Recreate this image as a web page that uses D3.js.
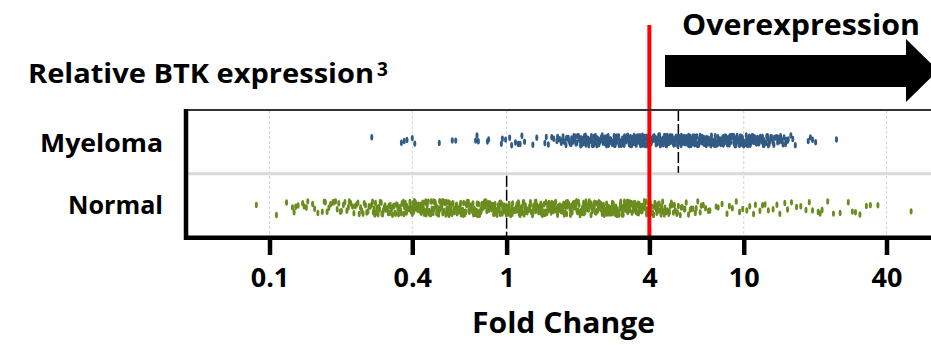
<!DOCTYPE html>
<html>
<head>
<meta charset="utf-8">
<script src="https://cdn.jsdelivr.net/npm/d3@7"></script>
<style>
  body { margin: 0; background: #fff; }
  text { font-family: "Open Sans", sans-serif; font-weight: 700; fill: #000; }
</style>
</head>
<body>
<svg id="chart" width="931" height="345"></svg>
<script>
// rows and values
const categories = ["Myeloma", "Normal"];
const seriesColors = ["#325b85", "#6b8c1f"];

const myelomaValues = [
  0.27, 0.36, 0.37, 0.38, 0.4, 0.41, 0.52, 0.59, 0.61, 0.74, 0.75, 0.76, 0.83, 0.84, 0.95, 0.96, 0.99,
  1.03, 1.05, 1.09, 1.12, 1.14, 1.16, 1.19, 1.29, 1.34, 1.45, 1.47, 1.5, 1.55, 1.58, 1.63, 1.66, 1.68,
  1.71, 1.73, 1.76, 1.78, 1.8, 1.82, 1.85, 1.87, 1.9, 1.92, 1.94, 1.96, 1.98, 2.01, 2.03,
  2.05, 2.07, 2.07, 2.1, 2.12, 2.13, 2.16, 2.17, 2.2, 2.21, 2.23, 2.26, 2.27, 2.3, 2.31, 2.34, 2.36, 2.37,
  2.4, 2.43, 2.44, 2.46, 2.49, 2.5, 2.53, 2.55, 2.56, 2.6, 2.61, 2.64, 2.67, 2.68, 2.71, 2.73, 2.77, 2.78,
  2.81, 2.82, 2.86, 2.89, 2.9, 2.94, 2.96, 2.98, 3.02, 3.04, 3.06, 3.1, 3.12, 3.15, 3.19, 3.2, 3.24, 3.28,
  3.29, 3.33, 3.37, 3.38, 3.43, 3.45, 3.48, 3.52, 3.55, 3.57, 3.62, 3.64, 3.67, 3.72, 3.74, 3.77, 3.82,
  3.84, 3.87, 3.92, 3.94, 3.98, 4.02, 4.05, 4.08, 4.13, 4.16, 4.19, 4.24, 4.27, 4.3, 4.36, 4.38, 4.42,
  4.48, 4.5, 4.55, 4.6, 4.63, 4.67, 4.73, 4.76, 4.8, 4.86, 4.89, 4.94, 4.99, 5.03, 5.07, 5.13, 5.17, 5.21,
  5.27, 5.31, 5.35, 5.42, 5.46, 5.5, 5.57, 5.61, 5.66, 5.73, 5.77, 5.82, 5.89, 5.93, 5.99, 6.06, 6.1, 6.16,
  6.23, 6.28, 6.34, 6.41, 6.46, 6.52, 6.6, 6.64, 6.71, 6.79, 6.83, 6.9, 6.98, 7.03, 7.1, 7.18, 7.23, 7.31,
  7.39, 7.44, 7.52, 7.61, 7.66, 7.74, 7.83, 7.88, 7.97, 8.06, 8.11, 8.2, 8.3, 8.35, 8.44, 8.54, 8.6, 8.69,
  8.8, 8.86, 8.95, 9.06, 9.12, 9.22, 9.33, 9.4, 9.5, 9.62, 9.68, 9.79, 9.91, 9.98, 10.1, 10.2, 10.3, 10.4,
  10.5, 10.6, 10.7, 10.8, 10.9, 11.0, 11.1, 11.3, 11.4, 11.5, 11.7, 11.8, 11.9, 12.1, 12.2, 12.4, 12.6,
  12.7, 12.9, 13.1, 13.3, 13.5, 13.8, 14.0, 14.3, 14.5, 14.8, 15.1, 15.4, 15.8,
  16.1, 16.5, 18.7, 19.1, 19.5, 20.1, 24.6,
  1.64, 1.7, 1.74, 1.79, 1.83, 1.88, 1.91, 1.95, 1.99, 2.02,
  2.06, 2.09, 2.11, 2.14, 2.15, 2.18, 2.19, 2.22, 2.25, 2.28, 2.29, 2.32, 2.33, 2.35, 2.39, 2.41, 2.42,
  2.45, 2.47, 2.51, 2.52, 2.54, 2.58, 2.59, 2.62, 2.63, 2.65, 2.69, 2.7, 2.74, 2.75, 2.79, 2.8, 2.84, 2.85,
  2.87, 2.91, 2.92, 2.95, 2.97, 3.0, 3.01, 3.05, 3.08, 3.09, 3.13, 3.14, 3.17, 3.21, 3.22, 3.26, 3.27, 3.31,
  3.32, 3.35, 3.36, 3.4, 3.41, 3.46, 3.47, 3.5, 3.53, 3.56, 3.59, 3.6, 3.65, 3.66, 3.7, 3.73, 3.76, 3.79,
  3.8, 3.85, 3.86, 3.9, 3.91, 3.96, 3.97, 4.0, 4.04, 4.07, 4.1, 4.11, 4.15, 4.18, 4.22, 4.25, 4.28, 4.33,
  4.34, 4.4, 4.41, 4.45, 4.47, 4.52, 4.53, 4.58, 4.62, 4.65, 4.7, 4.71, 4.75, 4.78, 4.83, 4.84, 4.9, 4.92,
  4.97, 5.0, 5.05, 5.1, 5.11, 5.15, 5.19, 5.24, 5.25, 5.3, 5.33, 5.38, 5.4, 5.44, 5.48, 5.53, 5.55, 5.59,
  5.64, 5.69, 5.7, 5.75, 5.8, 5.85, 5.87, 5.91, 5.96, 6.02, 6.04, 6.08, 6.13, 6.19, 6.21, 6.26, 6.31, 6.37,
  6.39, 6.44, 6.49, 6.55, 6.57, 6.62, 6.68, 6.74, 6.76, 6.81, 6.87, 6.93, 6.95, 7.01, 7.07, 7.13, 7.15,
  7.21, 7.27, 7.34, 7.36, 7.42, 7.48, 7.56, 7.58, 7.64, 7.7, 7.78, 7.8, 7.86, 7.93, 8.01, 8.03, 8.09, 8.16,
  8.25, 8.27, 8.33, 8.4, 8.49, 8.51, 8.57, 8.65, 8.74, 8.77, 8.83, 8.91, 9.0, 9.03, 9.09, 9.18, 9.27, 9.3,
  9.37, 9.46, 9.56, 9.59, 9.65, 9.74, 9.85, 9.88, 9.95, 10.05, 10.15, 10.25, 10.35, 10.45, 10.55, 10.65,
  10.75, 10.85, 10.95, 11.05, 11.2, 11.35, 11.45, 11.6, 11.75, 11.85, 12.0, 12.15, 12.3, 12.5, 12.65, 12.8,
  13.0, 13.2, 13.4, 13.65, 13.9, 14.15, 14.4, 14.65, 15.0, 15.3
];

const normalValues = [
  0.088, 0.107, 0.118, 0.125, 0.127, 0.129, 0.132, 0.138, 0.14, 0.143, 0.145, 0.152, 0.155, 0.16, 0.167,
  0.17, 0.172, 0.175, 0.178, 0.181, 0.185, 0.187, 0.19, 0.193, 0.196, 0.199, 0.201, 0.205, 0.208, 0.212,
  0.215, 0.217, 0.22, 0.224, 0.227, 0.23, 0.233, 0.236, 0.239, 0.242, 0.245, 0.248, 0.251, 0.254, 0.257,
  0.26, 0.263, 0.266,
  0.27, 0.272, 0.276, 0.278, 0.28, 0.284, 0.287, 0.289, 0.293, 0.296, 0.298, 0.302, 0.305, 0.307, 0.311,
  0.314, 0.317, 0.321, 0.323, 0.326, 0.33, 0.333, 0.336, 0.34, 0.343, 0.346, 0.35, 0.353, 0.357, 0.36,
  0.364, 0.367, 0.371, 0.374, 0.378, 0.382, 0.385, 0.389, 0.393, 0.396, 0.4, 0.404, 0.408, 0.412, 0.416,
  0.42, 0.424, 0.428, 0.432, 0.436, 0.441, 0.445, 0.449, 0.454, 0.458, 0.462, 0.467, 0.471, 0.476, 0.481,
  0.485, 0.49, 0.495, 0.5, 0.505, 0.51, 0.515, 0.52, 0.525, 0.53, 0.535, 0.541, 0.546, 0.552, 0.557,
  0.562, 0.568, 0.574, 0.579, 0.585, 0.591, 0.597, 0.603, 0.609, 0.615, 0.621, 0.627, 0.633, 0.64, 0.646,
  0.653, 0.659, 0.666, 0.672, 0.679, 0.686, 0.693, 0.7, 0.707, 0.714, 0.721, 0.728, 0.736, 0.743, 0.751,
  0.758, 0.766, 0.773, 0.781, 0.789, 0.797, 0.805, 0.813, 0.821, 0.829, 0.838, 0.846, 0.855, 0.863,
  0.872, 0.881, 0.889, 0.898, 0.907, 0.917, 0.926, 0.935, 0.944, 0.954, 0.963, 0.973, 0.983, 0.993, 1.0,
  1.01, 1.02, 1.03, 1.04, 1.05, 1.06, 1.07, 1.09, 1.1, 1.11, 1.12, 1.13, 1.14, 1.15, 1.16, 1.18, 1.19,
  1.2, 1.21, 1.22, 1.24, 1.25, 1.26, 1.28, 1.29, 1.3, 1.32, 1.33, 1.34, 1.36, 1.37, 1.39, 1.4, 1.41, 1.43,
  1.44, 1.46, 1.47, 1.49, 1.5, 1.52, 1.54, 1.55, 1.57, 1.58, 1.6, 1.62, 1.63, 1.65, 1.67, 1.69, 1.7, 1.72,
  1.74, 1.76, 1.77, 1.79, 1.81, 1.83, 1.85, 1.87, 1.89, 1.91, 1.93, 1.95, 1.97, 1.99, 2.01, 2.03, 2.05,
  2.08, 2.1, 2.12, 2.14, 2.16, 2.19, 2.21, 2.23, 2.26, 2.28, 2.3, 2.33, 2.35, 2.38, 2.4, 2.43, 2.45, 2.48,
  2.5, 2.53, 2.56, 2.58, 2.61, 2.64, 2.66, 2.69, 2.72, 2.75, 2.78, 2.8, 2.83, 2.86, 2.89, 2.92, 2.95,
  2.98, 3.02, 3.05, 3.08, 3.11, 3.14, 3.18, 3.21, 3.24, 3.28, 3.31, 3.35, 3.38, 3.42, 3.45, 3.49, 3.52,
  3.56, 3.6, 3.63, 3.67, 3.71, 3.75, 3.79, 3.83, 3.87, 3.91, 3.95, 3.99, 4.03, 4.07, 4.11, 4.15, 4.2,
  4.24, 4.28, 4.33,
  4.38, 4.45, 4.5, 4.57, 4.62, 4.7, 4.77, 4.83, 4.9, 4.98, 5.05, 5.15, 5.22, 5.3, 5.4, 5.5, 5.62, 5.72,
  5.85, 5.95, 6.1, 6.25, 6.4, 6.55,
  6.62, 6.75, 6.9, 7.1, 7.2, 7.65, 7.8, 8.1, 8.5, 8.7, 8.95, 9.3, 9.6, 9.9, 10.3, 10.6, 11.0, 11.2, 11.7, 12.0,
  12.3, 12.7, 13.3, 13.8, 14.2, 14.9, 15.3, 15.9, 16.7, 17.4, 18.3, 18.9, 19.5, 20.6, 21.0, 21.4, 22.6,
  23.9, 25.5, 27.6, 28.7, 29.6, 30.9, 32.9, 34.2, 36.8, 50.8,
  0.274, 0.282, 0.291, 0.3, 0.309, 0.319, 0.328, 0.338, 0.348, 0.355, 0.362, 0.369, 0.376, 0.38, 0.387,
  0.391, 0.398, 0.402, 0.406, 0.41, 0.414, 0.418, 0.422, 0.426, 0.43, 0.434, 0.439, 0.443, 0.447, 0.451,
  0.456, 0.46, 0.465, 0.469, 0.474, 0.478, 0.483, 0.488, 0.492, 0.497, 0.502, 0.507, 0.512, 0.517, 0.522,
  0.528, 0.533, 0.538, 0.543, 0.549, 0.554, 0.56, 0.565, 0.571, 0.576, 0.582, 0.588, 0.594, 0.6, 0.606,
  0.612, 0.618, 0.624, 0.63, 0.637, 0.643, 0.65, 0.656, 0.663, 0.669, 0.676, 0.683, 0.69, 0.697, 0.704,
  0.711, 0.718, 0.725, 0.732, 0.74, 0.747, 0.755, 0.762, 0.77, 0.778, 0.785, 0.793, 0.801, 0.809, 0.817,
  0.825, 0.834, 0.842, 0.851, 0.859, 0.868, 0.877, 0.885, 0.894, 0.903, 0.912, 0.922, 0.931, 0.94, 0.95,
  0.959, 0.969, 0.979, 0.989, 0.998, 1.015, 1.025, 1.035, 1.045, 1.055, 1.065, 1.075, 1.085, 1.095, 1.105,
  1.115, 1.125, 1.14, 1.15, 1.165, 1.175, 1.185, 1.2, 1.21, 1.225, 1.235, 1.245, 1.26, 1.27, 1.285, 1.3,
  1.31, 1.325, 1.34, 1.35, 1.365, 1.38, 1.395, 1.41, 1.42, 1.435, 1.45, 1.465, 1.48, 1.495, 1.51, 1.53,
  1.545, 1.56, 1.575, 1.59, 1.61, 1.625, 1.64, 1.66, 1.675, 1.695, 1.71, 1.73, 1.75, 1.765, 1.785, 1.8,
  1.82, 1.84, 1.86, 1.88, 1.9, 1.92, 1.94, 1.96, 1.98, 2.0, 2.02, 2.04, 2.07, 2.09, 2.11, 2.13, 2.15, 2.18,
  2.2, 2.22, 2.25, 2.27, 2.29, 2.32, 2.34, 2.37, 2.39, 2.42, 2.44, 2.47, 2.49, 2.52, 2.55, 2.57, 2.6, 2.63,
  2.65, 2.68, 2.71, 2.74, 2.77, 2.79, 2.82, 2.85, 2.88, 2.91, 2.94, 2.97, 3.0, 3.03, 3.07, 3.1, 3.13, 3.16,
  3.2, 3.23, 3.26, 3.3, 3.33, 3.36, 3.4, 3.44, 3.47, 3.51, 3.54, 3.58, 3.62, 3.65, 3.69, 3.73, 3.77, 3.81,
  3.85, 3.89, 3.93, 3.97, 4.01, 4.05, 4.09, 4.13, 4.17, 4.22, 4.26, 4.3, 4.35, 4.4, 4.48, 4.55, 4.65, 4.74,
  4.86, 4.95, 5.1, 5.25, 5.45, 5.65, 6.0, 6.3
];

const medianValues = [5.3, 1.0];
const tickValues = [0.1, 0.4, 1, 4, 10, 40];
const thresholdValue = 4;

const svg = d3.select("#chart");

// plot box
const plotLeft = 186, plotTop = 110, plotBottom = 237.5, plotRight = 945;

const x = d3.scaleLog().domain([0.1, 40]).range([269.5, 886.5]);
const y = d3.scaleBand().domain(categories).range([plotTop, plotBottom]);

// vertical grid at ticks
svg.append("g").selectAll("line")
  .data(tickValues)
  .join("line")
  .attr("x1", d => x(d)).attr("x2", d => x(d))
  .attr("y1", plotTop + 1).attr("y2", plotBottom - 2)
  .attr("stroke", "#d6d6d6")
  .attr("stroke-width", 1)
  .attr("stroke-dasharray", "3,2");

// row separator
svg.append("line")
  .attr("x1", plotLeft).attr("x2", plotRight)
  .attr("y1", y("Normal")).attr("y2", y("Normal"))
  .attr("stroke", "#d9d9d9")
  .attr("stroke-width", 3);

// median lines
svg.append("g").selectAll("line")
  .data(categories)
  .join("line")
  .attr("x1", (d, i) => x(medianValues[i])).attr("x2", (d, i) => x(medianValues[i]))
  .attr("y1", d => y(d) + (d === "Myeloma" ? 0 : 2))
  .attr("y2", d => y(d) + y.bandwidth() - (d === "Myeloma" ? 1 : 0))
  .attr("stroke", "#000")
  .attr("stroke-width", 1.5)
  .attr("stroke-dasharray", "11,3");

// jittered points (deterministic vertical scatter, layout only)
const spread = [10, 14];
const jitter = i => {
  const s = Math.sin(i * 12.9898 + 78.233) * 43758.5453;
  return s - Math.floor(s) - 0.5;
};
const allSeries = [myelomaValues, normalValues];

categories.forEach((cat, k) => {
  const cy = y(cat) + y.bandwidth() / 2 + (k === 0 ? -1.5 : 2.5);
  svg.append("g").selectAll("ellipse")
    .data(allSeries[k])
    .join("ellipse")
    .attr("cx", d => x(d))
    .attr("cy", (d, i) => cy + jitter(i + k * 1000) * spread[k])
    .attr("rx", 1.5)
    .attr("ry", 3.2)
    .attr("fill", seriesColors[k]);
});

// threshold line
svg.append("line")
  .attr("x1", x(thresholdValue)).attr("x2", x(thresholdValue))
  .attr("y1", 25).attr("y2", plotBottom)
  .attr("stroke", "#ff0000")
  .attr("stroke-width", 4);

// frame
svg.append("line")
  .attr("x1", plotLeft).attr("x2", plotRight)
  .attr("y1", plotTop).attr("y2", plotTop)
  .attr("stroke", "#333").attr("stroke-width", 2);
svg.append("line")
  .attr("x1", plotLeft).attr("x2", plotLeft)
  .attr("y1", plotTop - 1).attr("y2", plotBottom + 2.5)
  .attr("stroke", "#000").attr("stroke-width", 4.5);
svg.append("line")
  .attr("x1", plotLeft - 2).attr("x2", plotRight)
  .attr("y1", plotBottom + 0.25).attr("y2", plotBottom + 0.25)
  .attr("stroke", "#000").attr("stroke-width", 4.5);

// x axis
const axis = svg.append("g")
  .attr("transform", "translate(0," + (plotBottom + 2.5) + ")")
  .call(d3.axisBottom(x).tickValues(tickValues).tickFormat(d3.format("~g")).tickSize(15).tickPadding(13));
axis.select(".domain").remove();
axis.selectAll(".tick line").attr("stroke", "#000").attr("stroke-width", 4.5);
axis.selectAll(".tick text")
  .attr("fill", "#000")
  .style("font-family", "'Open Sans', sans-serif")
  .style("font-weight", 700)
  .style("font-size", "27px");

// row labels
svg.append("g").selectAll("text")
  .data(categories)
  .join("text")
  .attr("x", 163)
  .attr("y", (d, i) => y(d) + y.bandwidth() / 2 + (i === 0 ? 10.5 : 8.5))
  .attr("text-anchor", "end")
  .attr("font-size", 25)
  .attr("textLength", (d, i) => i === 0 ? 123 : 95)
  .attr("lengthAdjust", "spacingAndGlyphs")
  .text(d => d);

// axis title
svg.append("text")
  .attr("x", 563.5).attr("y", 333)
  .attr("text-anchor", "middle")
  .attr("font-size", 28)
  .attr("textLength", 183)
  .attr("lengthAdjust", "spacingAndGlyphs")
  .text("Fold Change");

// chart title
svg.append("text")
  .attr("x", 28).attr("y", 83)
  .attr("font-size", 26.5)
  .attr("textLength", 346)
  .attr("lengthAdjust", "spacingAndGlyphs")
  .text("Relative BTK expression");
svg.append("text")
  .attr("x", 377).attr("y", 76)
  .attr("font-size", 19)
  .text("3");

// overexpression arrow
const arrowPts = [[665, 55], [906, 55], [906, 39], [938, 70.5], [906, 102], [906, 87], [665, 87]];
svg.append("path")
  .attr("d", d3.line()(arrowPts) + "Z")
  .attr("fill", "#000");

svg.append("text")
  .attr("x", 682).attr("y", 35)
  .attr("font-size", 28)
  .attr("textLength", 238)
  .attr("lengthAdjust", "spacingAndGlyphs")
  .text("Overexpression");
</script>
</body>
</html>
